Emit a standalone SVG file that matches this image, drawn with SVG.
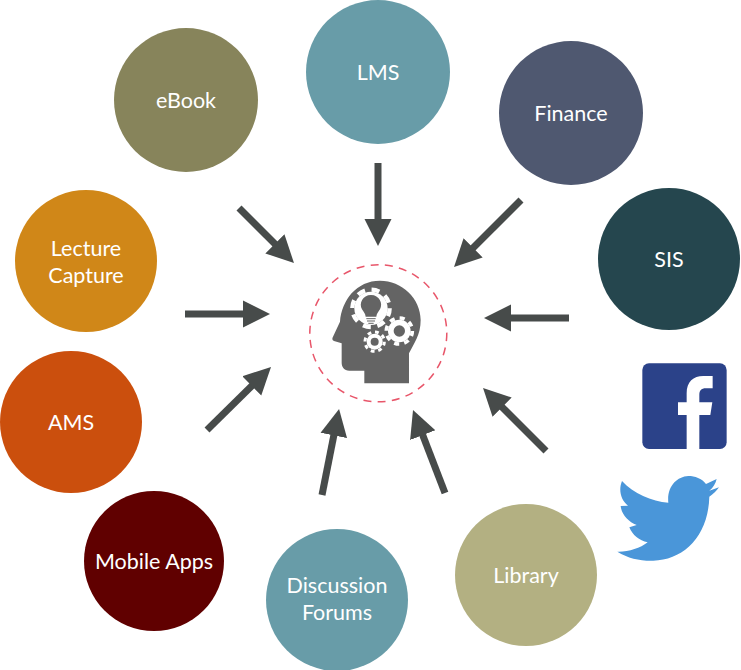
<svg xmlns="http://www.w3.org/2000/svg" width="741" height="670" viewBox="0 0 741 670">
<style>
.lbl{font-family:"Lato","Liberation Sans",sans-serif;font-size:21.500px;fill:#fff;text-anchor:middle}
.arr{stroke:#474b4a;stroke-width:7;fill:none;marker-end:url(#h)}
</style>
<defs>
<marker id="h" markerUnits="userSpaceOnUse" markerWidth="28" markerHeight="28" refX="2" refY="14" orient="auto"><path d="M0 0.5L27 14L0 27.500Z" fill="#474b4a"/></marker>
</defs>
<rect width="741" height="670" fill="#fff"/>
<g id="connectors">
<path class="arr" d="M239 208L276.300 245.300"/>
<path class="arr" d="M185 314L245 314"/>
<path class="arr" d="M378 163L378 221"/>
<path class="arr" d="M521 200L471.700 249.300"/>
<path class="arr" d="M569 318L509 318"/>
<path class="arr" d="M546 451L500.700 405.700"/>
<path class="arr" d="M445 493L422 433.300"/>
<path class="arr" d="M322 495L334.200 433.500"/>
<path class="arr" d="M207 430L253.200 384.500"/>
</g>
<g id="eBook"><circle cx="186" cy="100" r="72" fill="#87845b"/><text class="lbl" x="186" y="108">eBook</text></g>
<g id="LMS"><circle cx="378" cy="72" r="72" fill="#689ca8"/><text class="lbl" x="378" y="80">LMS</text></g>
<g id="Finance"><circle cx="571" cy="113" r="72" fill="#4f5870"/><text class="lbl" x="571" y="121">Finance</text></g>
<g id="SIS"><circle cx="669" cy="259" r="71" fill="#25464e"/><text class="lbl" x="669" y="267">SIS</text></g>
<g id="LectureCapture"><circle cx="86" cy="261" r="71" fill="#d08718"/><text class="lbl" x="86" y="256">Lecture</text><text class="lbl" x="86" y="283">Capture</text></g>
<g id="AMS"><circle cx="71" cy="422" r="71" fill="#cb4f0d"/><text class="lbl" x="71" y="430">AMS</text></g>
<g id="MobileApps"><circle cx="154" cy="561" r="70" fill="#600000"/><text class="lbl" x="154" y="569">Mobile Apps</text></g>
<g id="DiscussionForums"><circle cx="337" cy="600" r="71" fill="#689ca8"/><text class="lbl" x="337" y="593">Discussion</text><text class="lbl" x="337" y="620">Forums</text></g>
<g id="Library"><circle cx="526" cy="575" r="71" fill="#b3b082"/><text class="lbl" x="526" y="583">Library</text></g>
<g id="center">
<circle cx="378.300" cy="333.300" r="68.500" fill="none" stroke="#e8566a" stroke-width="1.500" stroke-dasharray="8 6.300"/>
<g transform="translate(290 240) scale(.3333)">
<path d="M270 122C335 122 392 175 392 240C392 285 372 310 357 340L357 430L223 430L223 392L178 392C162 392 155 380 155 368L155 310L132 303C126 300 126 295 129 290L150 245C155 180 200 122 270 122Z" fill="#646464"/>
<circle cx="243" cy="205" r="50" fill="#fff"/>
<circle cx="243" cy="205" r="56" fill="none" stroke="#fff" stroke-width="13" stroke-dasharray="24 20"/>
<path d="M243 165C268 165 280 190 270 208C263 218 260 222 259 230L227 230C226 222 223 218 216 208C206 190 218 165 243 165Z" fill="#646464"/>
<path d="M229 236H257M231 243H255M235 250H251" stroke="#646464" stroke-width="3"/>
<circle cx="328" cy="273" r="34" fill="#fff"/>
<circle cx="328" cy="273" r="39" fill="none" stroke="#fff" stroke-width="11" stroke-dasharray="15.300 15.300"/>
<circle cx="328" cy="273" r="17" fill="#646464"/>
<circle cx="254" cy="305" r="24" fill="#fff"/>
<circle cx="254" cy="305" r="29" fill="none" stroke="#fff" stroke-width="9" stroke-dasharray="11.400 11.400"/>
<circle cx="254" cy="305" r="12" fill="#646464"/>
</g>
</g>
<g id="facebook" transform="translate(600 350) scale(.3333)">
<rect x="127" y="40" width="253" height="257" rx="20" fill="#2b4289"/>
<path d="M260 297V195H234V157H260V130C260 95 280 78 310 78H338V115H318C303 115 298 122 298 135V157H337L331 195H298V297Z" fill="#fff"/>
</g>
<g id="twitter" transform="translate(600 350) scale(.3333)">
<path d="M350 387L318 402C305 385 285 378 265 378C230 380 200 410 205 458C155 455 100 430 66 393C55 420 62 450 84 467L62 468C65 495 85 515 110 525L88 532C97 555 118 572 143 577C120 595 85 606 52 605C85 625 120 633 160 632C250 630 325 560 328 440C340 432 350 422 357 412L328 422C340 413 347 400 350 387Z" fill="#4a96d9"/>
</g>
</svg>
